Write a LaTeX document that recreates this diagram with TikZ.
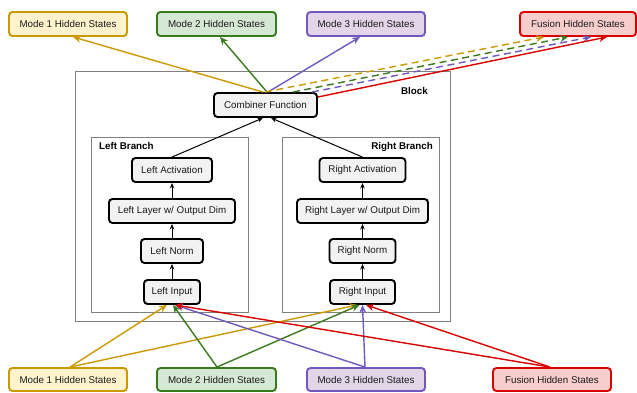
\documentclass[tikz,border=0pt]{standalone}
\usepackage{fontspec}
\setmainfont{Liberation Sans}
\usetikzlibrary{arrows.meta,calc}

\definecolor{yelfill}{HTML}{FFF2CC}
\definecolor{yelline}{HTML}{CC9900}
\definecolor{grnfill}{HTML}{D5E8D4}
\definecolor{grnline}{HTML}{3A7A1E}
\definecolor{purfill}{HTML}{E1D5E7}
\definecolor{purline}{HTML}{7058BE}
\definecolor{redfill}{HTML}{F8CECC}
\definecolor{redline}{HTML}{D90000}
\definecolor{opfill}{HTML}{F2F2F2}
\definecolor{framegray}{HTML}{808080}
\definecolor{txt}{HTML}{1A1A1A}

\tikzset{
  font=\fontsize{9.8}{11}\selectfont,
  statebox/.style={draw, rounded corners=3.5pt, line width=1.9pt, text=txt,
    minimum height=24pt, inner sep=0pt, anchor=center},
  mode1/.style={statebox, fill=yelfill, draw=yelline},
  mode2/.style={statebox, fill=grnfill, draw=grnline},
  mode3/.style={statebox, fill=purfill, draw=purline},
  fusion/.style={statebox, fill=redfill, draw=redline},
  opbox/.style={draw=black, fill=opfill, rounded corners=3.5pt, line width=1.9pt,
    text=txt, minimum height=24pt, inner sep=0pt, anchor=center},
  frame/.style={draw=framegray, line width=0.9pt},
  framelabel/.style={font=\fontsize{9.8}{11}\selectfont\bfseries, inner sep=0pt},
  conn/.style={line width=1.4pt, -{Stealth[length=8pt,width=7pt]}},
  flow/.style={line width=1pt, draw=black, -{Stealth[length=5.5pt,width=4.5pt]}},
  dashy/.style={dash pattern=on 7pt off 4.5pt},
}

\begin{document}
\begin{tikzpicture}[x=1pt,y=-1pt]
\useasboundingbox (0,0) rectangle (637,392);

% enclosing frames
\draw[frame] (75,71) rectangle (450,321);
\node[framelabel, anchor=base east] (blocklbl) at (428,94) {Block};
\draw[frame] (91,137) rectangle (248,312);
\node[framelabel, anchor=base west] (leftlbl) at (99,149) {Left Branch};
\draw[frame] (282,137) rectangle (439,312);
\node[framelabel, anchor=base east] (rightlbl) at (433,149) {Right Branch};

% hidden state boxes, top row (outputs)
\node[mode1, minimum width=118pt] (m1t) at (68,24) {Mode 1 Hidden States};
\node[mode2, minimum width=119pt] (m2t) at (216.5,24) {Mode 2 Hidden States};
\node[mode3, minimum width=118pt] (m3t) at (366,24) {Mode 3 Hidden States};
\node[fusion, minimum width=116pt] (fut) at (578,24) {Fusion Hidden States};

% hidden state boxes, bottom row (inputs)
\node[mode1, minimum width=118pt, minimum height=23pt] (m1b) at (68,379.5) {Mode 1 Hidden States};
\node[mode2, minimum width=119pt, minimum height=23pt] (m2b) at (216.5,379.5) {Mode 2 Hidden States};
\node[mode3, minimum width=118pt, minimum height=23pt] (m3b) at (366,379.5) {Mode 3 Hidden States};
\node[fusion, minimum width=118pt, minimum height=23pt] (fub) at (552,379.5) {Fusion Hidden States};

% block operations
\node[opbox, minimum width=103pt] (comb) at (265.5,105) {Combiner Function};

\node[opbox, minimum width=80pt]  (lact)  at (172,170) {Left Activation};
\node[opbox, minimum width=126pt] (llay)  at (172,211) {Left Layer w/ Output Dim};
\node[opbox, minimum width=62pt]  (lnorm) at (172,251) {Left Norm};
\node[opbox, minimum width=56pt]  (linp)  at (172,292) {Left Input};

\node[opbox, minimum width=86pt]  (ract)  at (362.5,170) {Right Activation};
\node[opbox, minimum width=131pt] (rlay)  at (362.5,211) {Right Layer w/ Output Dim};
\node[opbox, minimum width=66pt]  (rnorm) at (362.5,251) {Right Norm};
\node[opbox, minimum width=65pt]  (rinp)  at (362.5,292) {Right Input};

% flow inside the branches
\draw[flow] (linp) -- (lnorm);
\draw[flow] (lnorm) -- (llay);
\draw[flow] (llay) -- (lact);
\draw[flow] (rinp) -- (rnorm);
\draw[flow] (rnorm) -- (rlay);
\draw[flow] (rlay) -- (ract);
\draw[flow] (lact.north) -- ($(comb.south)+(-2.5,0)$);
\draw[flow] (ract.north) -- ($(comb.south)+(5.5,0)$);

% combiner outputs
\draw[conn, draw=yelline] ($(comb.north)+(-2.5,0)$) -- ($(m1t.south)+(5,0)$);
\draw[conn, draw=grnline] ($(comb.north)+(1.5,0)$) -- ($(m2t.south)+(3.5,0)$);
\draw[conn, draw=purline] ($(comb.north)+(2.5,0)$) -- ($(m3t.south)+(-6,0)$);
\draw[conn, dashy, draw=yelline] ($(comb.north)+(-0.5,0)$) -- ($(fut.south)+(-34,0)$);
\draw[conn, dashy, draw=grnline] ($(comb.north)+(27.5,0)$) -- ($(fut.south)+(-10,0)$);
\draw[conn, dashy, draw=purline] ($(comb.north)+(46.5,0)$) -- ($(fut.south)+(13,0)$);
\draw[conn, draw=redline] ($(comb.east)+(0,-8)$) -- ($(fut.south)+(29,0)$);

% inputs into both branches
\draw[conn, draw=yelline] ($(m1b.north)+(2,0)$) -- ($(linp.south)+(-5,0)$);
\draw[conn, draw=yelline] ($(m1b.north)+(2,0)$) -- ($(rinp.south)+(-5,0)$);
\draw[conn, draw=grnline] ($(m2b.north)+(0.5,0)$) -- ($(linp.south)+(1,0)$);
\draw[conn, draw=grnline] ($(m2b.north)+(0.5,0)$) -- ($(rinp.south)+(-3,0)$);
\draw[conn, draw=purline] ($(m3b.north)+(-1,0)$) -- ($(linp.south)+(3,0)$);
\draw[conn, draw=purline] ($(m3b.north)+(-1,0)$) -- ($(rinp.south)+(0,0)$);
\draw[conn, draw=redline] ($(fub.north)+(-2,0)$) -- ($(linp.south)+(3,0)$);
\draw[conn, draw=redline] ($(fub.north)+(-2,0)$) -- ($(rinp.south)+(3.5,0)$);
\end{tikzpicture}
\end{document}
